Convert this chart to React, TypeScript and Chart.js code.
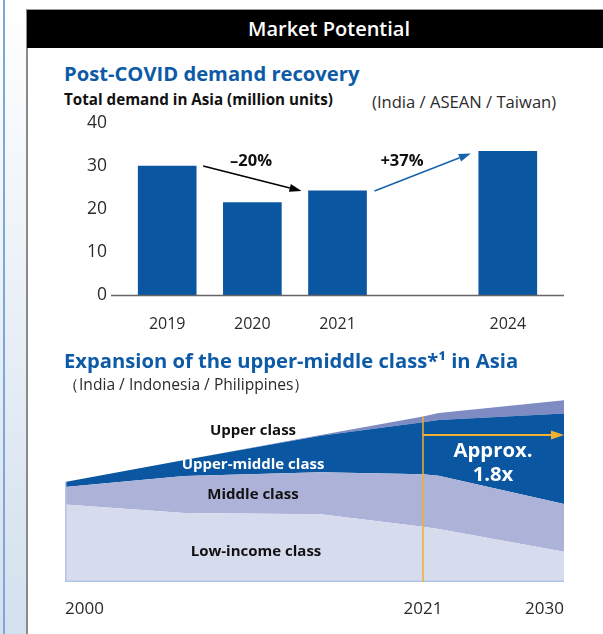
import React, { useEffect, useRef } from 'react';
import { Chart, registerables, LinearScale } from 'chart.js';

// ---------- data ----------
const demandYears = ['2019', '2020', '2021', '2024'];
const demandSlots = [0, 1, 2, 4];
const demandValues = [30, 21.5, 24.2, 33.4];
const demandTicks = [0, 10, 20, 30, 40];
const changeLabels = ['–20%', '+37%'];

const classYears = [2000, 2007, 2015, 2021, 2022, 2030];
const lowIncome = [42.6, 37.9, 37.2, 30.4, 29.1, 16.6];
const middleClass = [9.6, 20.3, 23.1, 28.8, 29.3, 26.2];
const upperMiddle = [2.7, 8.8, 20.1, 28.6, 30.6, 49.8];
const upperClass = [0, 0, 0.4, 3.1, 3.8, 7.3];
const classNames = ['Low-income class', 'Middle class', 'Upper-middle class', 'Upper class'];
const classTickYears = [2000, 2021, 2030];
const growthLabel = ['Approx.', '1.8x'];

// ---------- styles ----------
const FONT = '"Open Sans", "Noto Sans", sans-serif';
const BLUE = '#0a56a0';
const TITLE_BLUE = '#0d5aa6';
const TEXT = '#2b2b2b';
const YELLOW = '#f0b030';
const BREAK_YEAR = 2021;
const BREAK_FRAC = 0.7174;
const ARROW_LEVEL = 80.8;

Chart.register(...registerables);

class TimelineScale extends LinearScale {
  static id = 'timeline';
  getPixelForValue(value: number) {
    if (value === null || value === undefined || isNaN(value)) return NaN;
    const min = this.min as number;
    const max = this.max as number;
    let t: number;
    if (value <= BREAK_YEAR) t = ((value - min) / (BREAK_YEAR - min)) * BREAK_FRAC;
    else t = BREAK_FRAC + ((value - BREAK_YEAR) / (max - BREAK_YEAR)) * (1 - BREAK_FRAC);
    return this.getPixelForDecimal(t);
  }
  getValueForPixel(pixel: number) {
    const t = this.getDecimalForPixel(pixel);
    const min = this.min as number;
    const max = this.max as number;
    if (t <= BREAK_FRAC) return min + (t / BREAK_FRAC) * (BREAK_YEAR - min);
    return BREAK_YEAR + ((t - BREAK_FRAC) / (1 - BREAK_FRAC)) * (max - BREAK_YEAR);
  }
}
Chart.register(TimelineScale as any);

function arrow(ctx: CanvasRenderingContext2D, x1: number, y1: number, x2: number, y2: number, color: string, head: number, half: number, lw: number) {
  const ang = Math.atan2(y2 - y1, x2 - x1);
  const bx = x2 - Math.cos(ang) * head;
  const by = y2 - Math.sin(ang) * head;
  ctx.save();
  ctx.strokeStyle = color;
  ctx.fillStyle = color;
  ctx.lineWidth = lw;
  ctx.beginPath();
  ctx.moveTo(x1, y1);
  ctx.lineTo(bx, by);
  ctx.stroke();
  ctx.beginPath();
  ctx.moveTo(x2, y2);
  ctx.lineTo(bx - Math.sin(ang) * half, by + Math.cos(ang) * half);
  ctx.lineTo(bx + Math.sin(ang) * half, by - Math.cos(ang) * half);
  ctx.closePath();
  ctx.fill();
  ctx.restore();
}

const T = ({ x, y, align = 'left', size, weight = 400, color = TEXT, children }: any) => (
  <div
    style={{
      position: 'absolute',
      left: x,
      top: y,
      transform: `translate(${align === 'center' ? '-50%' : align === 'right' ? '-100%' : '0'}, -50%)`,
      fontSize: size,
      fontWeight: weight,
      color,
      whiteSpace: 'nowrap',
      lineHeight: 1,
      fontFamily: FONT,
    }}
  >
    {children}
  </div>
);

export default function App() {
  const barRef = useRef<HTMLCanvasElement>(null);
  const areaRef = useRef<HTMLCanvasElement>(null);

  useEffect(() => {
    const barAnnot = {
      id: 'barAnnot',
      afterDatasetsDraw(chart: any) {
        const { ctx, chartArea: a, scales } = chart;
        const xs = scales.x;
        const ys = scales.y;
        ctx.save();
        ctx.strokeStyle = '#666';
        ctx.lineWidth = 1.5;
        ctx.beginPath();
        ctx.moveTo(a.left, a.bottom + 0.5);
        ctx.lineTo(a.right, a.bottom + 0.5);
        ctx.stroke();
        ctx.restore();
        arrow(ctx, xs.getPixelForValue(demandSlots[0]) + 36, ys.getPixelForValue(demandValues[0]),
          xs.getPixelForValue(demandSlots[2]) - 36, ys.getPixelForValue(demandValues[2]), '#000', 12, 4, 1.5);
        arrow(ctx, xs.getPixelForValue(demandSlots[2]) + 37, ys.getPixelForValue(demandValues[2]),
          xs.getPixelForValue(demandSlots[3]) - 37, ys.getPixelForValue(demandValues[3]) + 2, '#1762ad', 12, 4, 1.5);
      },
    };

    const tickFont = { family: FONT, size: 16.5 };
    const bar = new Chart(barRef.current!, {
      type: 'bar',
      data: {
        datasets: [
          {
            data: demandSlots.map((x, i) => ({ x, y: demandValues[i] })),
            backgroundColor: BLUE,
            barThickness: 58,
          },
        ],
      },
      options: {
        animation: false,
        responsive: false,
        layout: { padding: { left: 71, right: 39, top: 23, bottom: 0 } },
        plugins: { legend: { display: false }, tooltip: { enabled: false } },
        scales: {
          x: {
            type: 'linear',
            min: -0.66,
            max: 4.66,
            offset: false,
            grid: { display: false, drawTicks: false },
            border: { display: false },
            afterBuildTicks: (s: any) => {
              s.ticks = demandSlots.map((v) => ({ value: v }));
            },
            afterFit: (s: any) => {
              s.height = 55;
            },
            ticks: {
              callback: (v: any) => demandYears[demandSlots.indexOf(Number(v))] ?? '',
              font: { family: FONT, size: 16 },
              color: TEXT,
              padding: 20,
              maxRotation: 0,
              autoSkip: false,
            },
          },
          y: {
            min: 0,
            max: 40,
            grid: { display: false, drawTicks: false },
            border: { display: false },
            afterBuildTicks: (s: any) => {
              s.ticks = demandTicks.map((v) => ({ value: v }));
            },
            afterFit: (s: any) => {
              s.width = 40;
            },
            ticks: { font: { family: FONT, size: 17.5 }, color: TEXT, padding: 4 },
          },
        },
      } as any,
      plugins: [barAnnot],
    });

    const areaAnnot = {
      id: 'areaAnnot',
      afterDatasetsDraw(chart: any) {
        const { ctx, chartArea: a, scales } = chart;
        const xs = scales.x;
        const ys = scales.y;
        const totals = classYears.map((_, i) => lowIncome[i] + middleClass[i] + upperMiddle[i] + upperClass[i]);
        ctx.save();
        ctx.strokeStyle = '#b3c5e6';
        ctx.lineWidth = 1.5;
        ctx.beginPath();
        ctx.moveTo(a.left + 0.75, ys.getPixelForValue(totals[0]));
        ctx.lineTo(a.left + 0.75, a.bottom - 0.75);
        ctx.lineTo(a.right, a.bottom - 0.75);
        ctx.stroke();
        const bi = classYears.indexOf(BREAK_YEAR);
        const xp = xs.getPixelForValue(BREAK_YEAR);
        ctx.strokeStyle = YELLOW;
        ctx.lineWidth = 1.5;
        ctx.beginPath();
        ctx.moveTo(xp, ys.getPixelForValue(totals[bi]));
        ctx.lineTo(xp, a.bottom);
        ctx.stroke();
        ctx.restore();
        const ay = ys.getPixelForValue(ARROW_LEVEL);
        arrow(ctx, xp, ay, a.right, ay, YELLOW, 13, 4.5, 2);
      },
    };

    const series = [lowIncome, middleClass, upperMiddle, upperClass];
    const fills = ['#d7dbee', '#adb3d8', '#0a56a0', '#7f8cc4'];
    const area = new Chart(areaRef.current!, {
      type: 'line',
      data: {
        datasets: series.map((s, k) => ({
          label: classNames[k],
          data: classYears.map((x, i) => ({ x, y: s[i] })),
          backgroundColor: fills[k],
          borderColor: 'rgba(0,0,0,0)',
          borderWidth: 0,
          pointRadius: 0,
          tension: 0,
          fill: k === 0 ? 'origin' : '-1',
        })),
      },
      options: {
        animation: false,
        responsive: false,
        layout: { padding: { left: 65, right: 39, top: 10, bottom: 0 } },
        plugins: { legend: { display: false }, tooltip: { enabled: false } },
        scales: {
          x: {
            type: 'timeline',
            min: 2000,
            max: 2030,
            grid: { display: false, drawTicks: false },
            border: { display: false },
            afterBuildTicks: (s: any) => {
              s.ticks = classTickYears.map((v) => ({ value: v }));
            },
            afterFit: (s: any) => {
              s.height = 48;
            },
            ticks: {
              align: 'inner',
              callback: (v: any) => String(v),
              font: { family: FONT, size: 17 },
              color: TEXT,
              padding: 17,
              maxRotation: 0,
              autoSkip: false,
            },
          },
          y: { display: false, stacked: true, min: 0, max: 100 },
        },
      } as any,
      plugins: [areaAnnot],
    });

    return () => {
      bar.destroy();
      area.destroy();
    };
  }, []);

  return (
    <div style={{ position: 'fixed', left: 0, top: 0, width: 603, height: 634, background: '#fff', overflow: 'hidden', fontFamily: FONT }}>
      <div style={{ position: 'absolute', left: 0, top: 0, width: 27, height: 634, background: 'linear-gradient(#ffffff, #d3e0ee)' }} />
      <div style={{ position: 'absolute', left: 3, top: 0, width: 1.5, height: 634, background: '#7fa6d6' }} />
      <div style={{ position: 'absolute', left: 26, top: 9, width: 1.5, height: 625, background: '#8a8a8a' }} />
      <div style={{ position: 'absolute', left: 27, top: 9, width: 576, height: 1, background: '#9a9a9a' }} />
      <div style={{ position: 'absolute', left: 27, top: 10, width: 576, height: 38, background: '#000' }} />
      <T x={329} y={29} align="center" size={20} weight={600} color="#fff">Market Potential</T>

      <T x={64} y={73} size={20.2} weight={700} color={TITLE_BLUE}>Post-COVID demand recovery</T>
      <T x={64} y={100} size={15.2} weight={700} color="#111">Total demand in Asia (million units)</T>
      <T x={372} y={102} size={16.6} color={TEXT}>(India / ASEAN / Taiwan)</T>

      <canvas ref={barRef} width={603} height={250} style={{ position: 'absolute', left: 0, top: 100 }} />
      <T x={251} y={160} align="center" size={16.5} weight={700} color="#111">{changeLabels[0]}</T>
      <T x={402} y={160} align="center" size={16.5} weight={700} color="#111">{changeLabels[1]}</T>

      <T x={64} y={360} size={20.2} weight={700} color={TITLE_BLUE}>Expansion of the upper-middle class*¹ in Asia</T>
      <T x={63} y={385} size={15.6} color={TEXT}>（India / Indonesia / Philippines）</T>

      <canvas ref={areaRef} width={603} height={240} style={{ position: 'absolute', left: 0, top: 390 }} />
      <T x={253} y={429} align="center" size={15} weight={700} color="#111">{classNames[3]}</T>
      <T x={253} y={463} align="center" size={15} weight={700} color="#fff">{classNames[2]}</T>
      <T x={253} y={493} align="center" size={15} weight={700} color="#111">{classNames[1]}</T>
      <T x={256} y={550} align="center" size={15} weight={700} color="#111">{classNames[0]}</T>
      <T x={493} y={449} align="center" size={20.3} weight={700} color="#fff">{growthLabel[0]}</T>
      <T x={493} y={473} align="center" size={20.3} weight={700} color="#fff">{growthLabel[1]}</T>
    </div>
  );
}
